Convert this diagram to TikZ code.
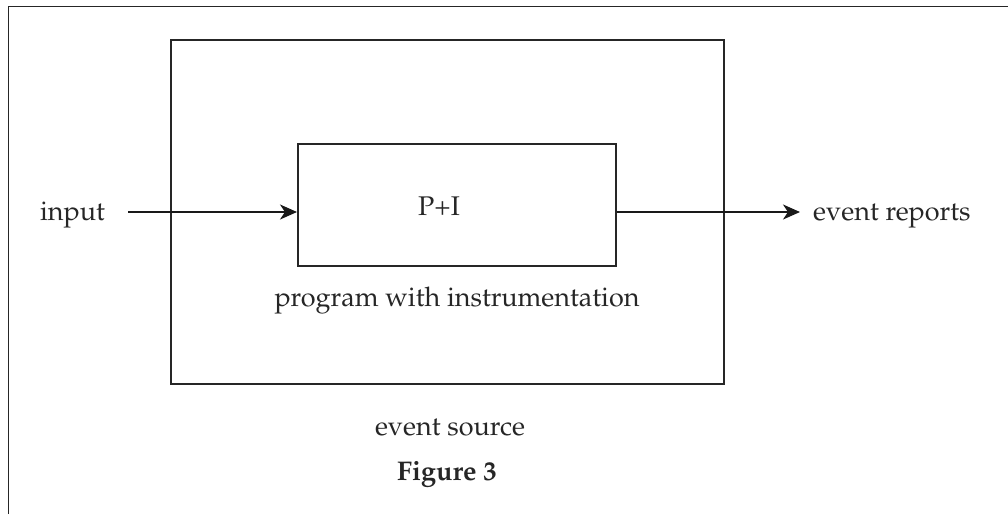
\documentclass[tikz,border=0pt]{standalone}
\usepackage[T1]{fontenc}
\usepackage{mathpazo}
\usetikzlibrary{arrows.meta}
\tikzset{
  frameline/.style={line width=1.4pt, draw=black!85},
  boxline/.style={line width=2pt, draw=black!85},
  arrowline/.style={line width=2pt, draw=black!90, -{Stealth[length=17pt,width=15pt,inset=5pt]}},
  lbl/.style={inner sep=0pt, font=\fontsize{27}{32}\selectfont, text=black!85},
  boldlbl/.style={lbl, font=\fontsize{27}{32}\selectfont\bfseries},
}
\begin{document}
\begin{tikzpicture}[x=1pt,y=-1pt]
\useasboundingbox (0,0) rectangle (1008,514);
% outer frame (open at right and bottom)
\draw[frameline] (8.5,514) -- (8.5,6.5) -- (1008,6.5);
% event source box
\node[boxline, draw, minimum width=553pt, minimum height=344pt, inner sep=0pt] (src) at (447.5,211.5) {};
% program box
\node[boxline, draw, minimum width=318pt, minimum height=122pt, inner sep=0pt] (prog) at (457,205) {};
\node[lbl, anchor=base] (pi) at (439,215) {P+I};
\node[lbl, anchor=base] (pwi) at (457,306) {program with instrumentation};
\node[lbl, anchor=base] (es) at (450,435) {event source};
\node[boldlbl, anchor=base] (fig) at (447,480) {Figure 3};
% input / output
\node[lbl, anchor=base] (in) at (72.5,220) {input};
\node[lbl, anchor=base west] (out) at (813,220) {event reports};
\coordinate (inA) at (128,212);
\coordinate (outA) at (800,212);
\draw[arrowline] (inA) -- (prog.west |- inA);
\draw[arrowline] (prog.east |- outA) -- (outA);
\end{tikzpicture}
\end{document}
